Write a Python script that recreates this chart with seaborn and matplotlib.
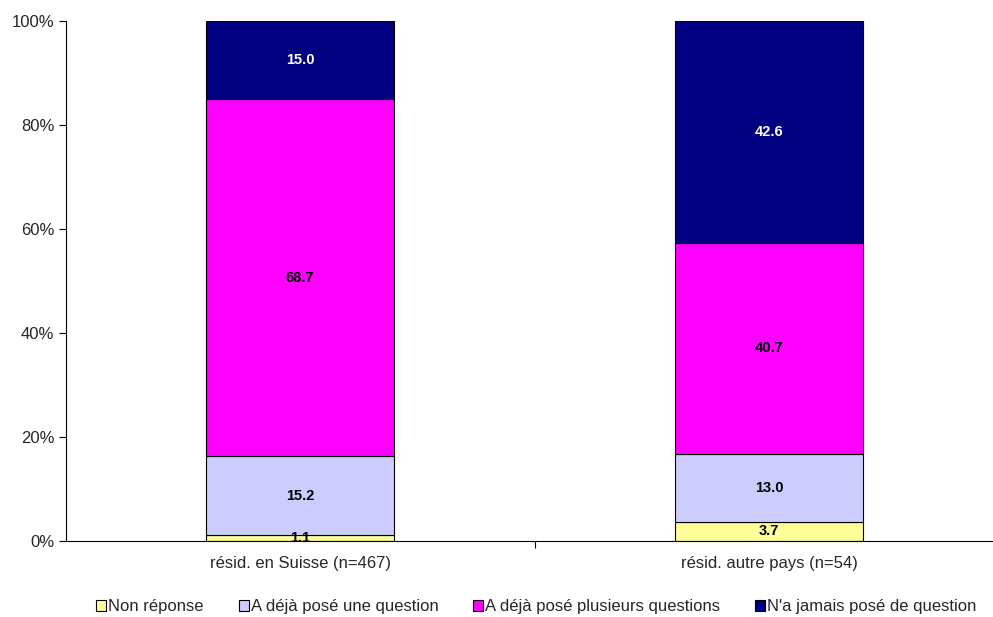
import matplotlib
matplotlib.use("Agg")
import matplotlib.pyplot as plt
import seaborn as sns
import numpy as np
import pandas as pd
from matplotlib.patches import Patch
from matplotlib.ticker import FuncFormatter, FixedLocator

sns.set_theme(style="white")
plt.rcParams['font.family'] = ['Liberation Sans', 'DejaVu Sans']

categories = ["résid. en Suisse (n=467)", "résid. autre pays (n=54)"]
series_names = ["Non réponse", "A déjà posé une question",
                "A déjà posé plusieurs questions", "N'a jamais posé de question"]
non_reponse = [1.1, 3.7]
une_question = [15.2, 13.0]
plusieurs_questions = [68.7, 40.7]
jamais = [15.0, 42.6]
colors = ["#FFFF99", "#CCCCFF", "#FF00FF", "#000080"]
label_colors = ["black", "black", "black", "white"]

series_values = [non_reponse, une_question, plusieurs_questions, jamais]

fig = plt.figure(figsize=(9.93, 6.17), dpi=100)
ax = fig.add_axes([65.5 / 993, (617 - 541) / 617, (1003.5 - 65.5) / 993, 520 / 617])

bottom = np.zeros(len(categories))
for name, vals, col, lc in zip(series_names, series_values, colors, label_colors):
    df = pd.DataFrame({"cat": categories, "val": vals})
    sns.barplot(data=df, x="cat", y="val", color=col, width=0.4, bottom=bottom,
                edgecolor="black", linewidth=0.8, saturation=1, ax=ax, errorbar=None)
    for i, v in enumerate(vals):
        ax.text(i, bottom[i] + v / 2, f"{v:.1f}", ha="center", va="center",
                fontsize=10.5, fontweight="bold", color=lc)
    bottom = bottom + np.array(vals)

ax.set_xlim(-0.5, 1.5)
ax.set_ylim(0, 100)
ax.set_yticks([0, 20, 40, 60, 80, 100])
ax.yaxis.set_major_formatter(FuncFormatter(lambda v, p: f"{int(v)}%"))
ax.set_xlabel("")
ax.set_ylabel("")
ax.tick_params(axis="y", which="major", direction="out", length=5, width=0.8,
               labelsize=12, pad=3, color="black", left=True)
ax.tick_params(axis="x", which="major", length=0, labelsize=12, pad=11)
ax.xaxis.set_minor_locator(FixedLocator([0.5, 1.5]))
ax.tick_params(axis="x", which="minor", direction="out", length=5, width=0.8,
               color="black", bottom=True)
for s in ["top", "right"]:
    ax.spines[s].set_visible(False)
for s in ["left", "bottom"]:
    ax.spines[s].set_color("black")
    ax.spines[s].set_linewidth(0.8)
ax.grid(False)

handles = [Patch(facecolor=c, edgecolor="black", linewidth=0.8) for c in colors]
fig.legend(handles, series_names, loc="center", bbox_to_anchor=(536.5 / 993, 1 - 607 / 617),
           ncol=4, frameon=False, fontsize=12, handlelength=0.6, handleheight=0.6,
           handletextpad=0.12, columnspacing=2.1, borderpad=0, borderaxespad=0)

fig.savefig("out.png", dpi=100)
